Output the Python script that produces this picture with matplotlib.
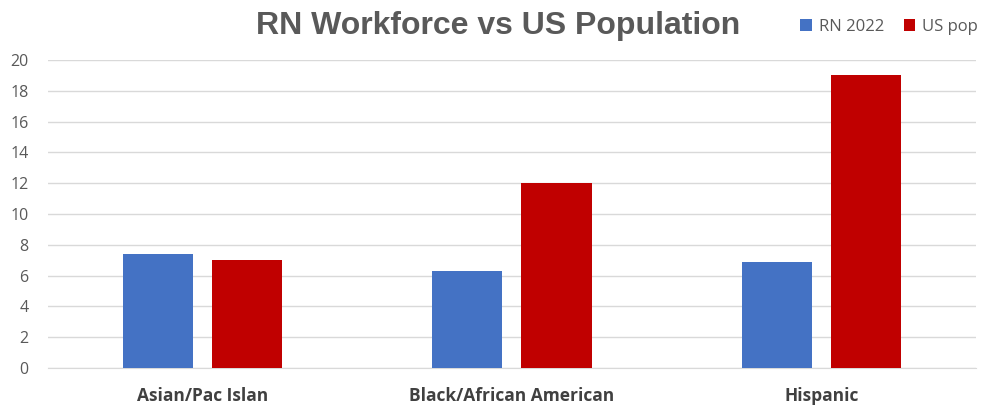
import matplotlib
matplotlib.use("Agg")
import matplotlib.pyplot as plt
import numpy as np

categories = ["Asian/Pac Islan", "Black/African American", "Hispanic"]
rn_2022 = [7.4, 6.3, 6.9]
us_pop = [7.0, 12.0, 19.0]
series_names = ["RN 2022", "US pop"]
colors = ["#4472C4", "#C00000"]

plt.rcParams['font.family'] = ['Open Sans', 'DejaVu Sans']

fig = plt.figure(figsize=(9.86, 4.08), dpi=100)
ax = fig.add_axes([0.0487, 0.098, 0.941, 0.755])

x = np.arange(len(categories))
w = 0.227
off = 0.144
ax.bar(x - off, rn_2022, w, color=colors[0], label=series_names[0], zorder=3)
ax.bar(x + off, us_pop, w, color=colors[1], label=series_names[1], zorder=3)

ax.set_xlim(-0.5, 2.5)
ax.set_ylim(0, 20)
ax.set_yticks(range(0, 21, 2))
ax.yaxis.grid(True, color="#D9D9D9", linewidth=1, zorder=0)
ax.set_axisbelow(True)
for s in ax.spines.values():
    s.set_visible(False)
ax.spines['bottom'].set_visible(True)
ax.spines['bottom'].set_color("#D9D9D9")
ax.tick_params(axis='both', length=0, colors="#595959", labelsize=11.5)
ax.tick_params(axis='y', pad=14)
ax.tick_params(axis='x', pad=14, labelsize=12.5)
ax.set_xticks(x)
ax.set_xticklabels(categories, fontweight='bold', color="#404040")

fig.text(0.505, 0.937, "RN Workforce vs US Population", ha='center', va='center',
         fontsize=23, fontweight='bold', color="#595959", family=['Liberation Sans', 'DejaVu Sans'])

leg = fig.legend(loc='center right', bbox_to_anchor=(1.007, 0.935), ncol=2, frameon=False,
                 fontsize=12, handlelength=0.7, handleheight=0.7, columnspacing=1.2,
                 handletextpad=0.4, labelcolor="#595959")

fig.savefig("out.png", dpi=100)
